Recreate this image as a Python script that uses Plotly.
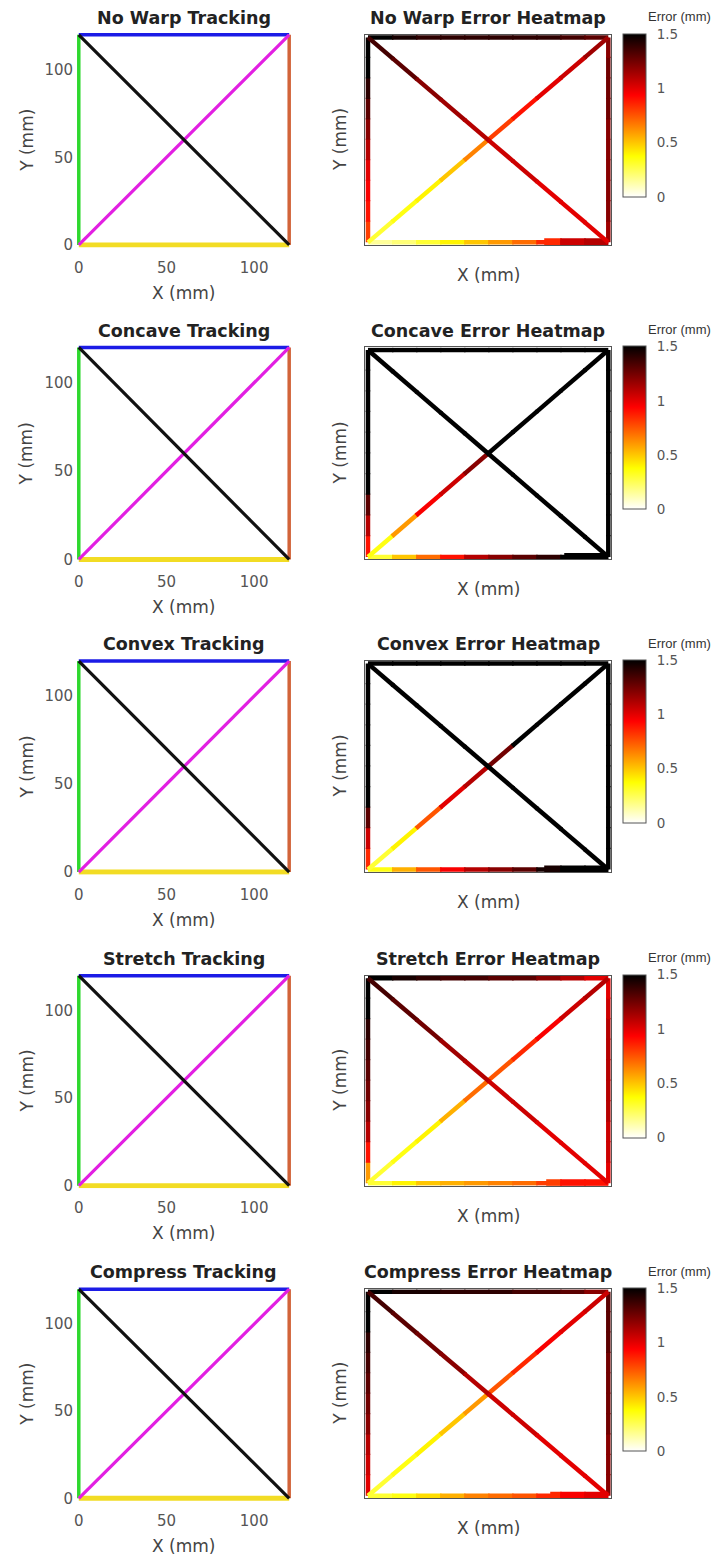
import plotly.graph_objects as go
from plotly.colors import sample_colorscale

# ---------------- data ----------------
WARPS = ["No Warp", "Concave", "Convex", "Stretch", "Compress"]

# tracked paths (mm): left, top, right, bottom, rising diagonal, falling diagonal
PATH_NAMES = ["left", "top", "right", "bottom", "diag_up", "diag_down"]
PATH_X0 = [0, 0, 120, 0, 0, 0]
PATH_Y0 = [0, 120, 0, 0, 0, 120]
PATH_X1 = [0, 120, 120, 120, 120, 120]
PATH_Y1 = [120, 120, 120, 0, 120, 0]

X_TICKS = [0, 50, 100]
Y_TICKS = [0, 50, 100]
CBAR_TICKS = [0, 0.5, 1, 1.5]
CBAR_TICKTEXT = ["0", "0.5", "1", "1.5"]
ERR_MAX = 1.5

# error (mm) along each path, start -> end, 10 samples each
nowarp_left = [0.8, 0.9, 0.95, 1.0, 1.1, 1.2, 1.3, 1.4, 1.5, 1.5]
nowarp_top = [1.5, 1.45, 1.4, 1.4, 1.4, 1.4, 1.4, 1.4, 1.35, 1.3]
nowarp_right = [1.15, 1.2, 1.2, 1.2, 1.2, 1.2, 1.25, 1.25, 1.25, 1.2]
nowarp_bottom = [0.15, 0.2, 0.3, 0.4, 0.5, 0.6, 0.7, 0.85, 1.05, 1.1]
nowarp_up = [0.3, 0.35, 0.4, 0.5, 0.65, 0.8, 0.9, 1.0, 1.05, 1.15]
nowarp_down = [1.35, 1.3, 1.2, 1.15, 1.1, 1.05, 1.05, 1.0, 1.0, 1.0]

concave_left = [0.9, 1.1, 1.3, 1.5, 1.5, 1.5, 1.5, 1.5, 1.5, 1.5]
concave_top = [1.5, 1.5, 1.5, 1.5, 1.5, 1.5, 1.5, 1.5, 1.5, 1.5]
concave_right = [1.5, 1.5, 1.5, 1.5, 1.5, 1.5, 1.5, 1.5, 1.5, 1.5]
concave_bottom = [0.3, 0.5, 0.7, 0.9, 1.1, 1.2, 1.3, 1.4, 1.5, 1.5]
concave_up = [0.35, 0.6, 0.95, 1.05, 1.2, 1.5, 1.5, 1.5, 1.5, 1.5]
concave_down = [1.5, 1.5, 1.5, 1.5, 1.5, 1.5, 1.5, 1.5, 1.5, 1.5]

convex_left = [0.85, 1.05, 1.3, 1.5, 1.5, 1.5, 1.5, 1.5, 1.5, 1.5]
convex_top = [1.5, 1.5, 1.5, 1.5, 1.5, 1.5, 1.5, 1.5, 1.5, 1.5]
convex_right = [1.5, 1.5, 1.5, 1.5, 1.5, 1.5, 1.5, 1.5, 1.5, 1.5]
convex_bottom = [0.35, 0.55, 0.75, 0.95, 1.1, 1.2, 1.3, 1.45, 1.5, 1.5]
convex_up = [0.3, 0.4, 0.75, 1.0, 1.1, 1.25, 1.5, 1.5, 1.5, 1.5]
convex_down = [1.5, 1.5, 1.5, 1.5, 1.5, 1.5, 1.5, 1.5, 1.5, 1.5]

stretch_left = [0.6, 0.9, 1.1, 1.2, 1.25, 1.3, 1.35, 1.4, 1.5, 1.5]
stretch_top = [1.5, 1.45, 1.4, 1.35, 1.35, 1.3, 1.3, 1.2, 1.1, 1.0]
stretch_right = [1.0, 1.05, 1.05, 1.1, 1.1, 1.1, 1.1, 1.1, 1.05, 1.0]
stretch_bottom = [0.3, 0.4, 0.5, 0.55, 0.6, 0.65, 0.7, 0.8, 0.9, 0.9]
stretch_up = [0.3, 0.35, 0.4, 0.55, 0.7, 0.75, 0.85, 0.95, 1.05, 1.1]
stretch_down = [1.35, 1.3, 1.25, 1.15, 1.1, 1.05, 1.05, 1.0, 1.0, 1.0]

compress_left = [1.0, 1.05, 1.1, 1.2, 1.25, 1.3, 1.35, 1.4, 1.5, 1.5]
compress_top = [1.5, 1.45, 1.45, 1.4, 1.4, 1.4, 1.35, 1.35, 1.3, 1.2]
compress_right = [1.2, 1.2, 1.2, 1.25, 1.25, 1.25, 1.25, 1.3, 1.3, 1.3]
compress_bottom = [0.3, 0.35, 0.45, 0.55, 0.65, 0.7, 0.75, 0.85, 0.95, 1.0]
compress_up = [0.3, 0.35, 0.4, 0.5, 0.6, 0.75, 0.85, 0.95, 1.0, 1.05]
compress_down = [1.35, 1.3, 1.25, 1.2, 1.1, 1.05, 1.05, 1.0, 1.0, 1.0]

# x (mm) from which the bottom edge is drawn as a thick blob
BLOB_FROM = [88, 98, 88, 89, 91]

ERRORS = [
    [nowarp_left, nowarp_top, nowarp_right, nowarp_bottom, nowarp_up, nowarp_down],
    [concave_left, concave_top, concave_right, concave_bottom, concave_up, concave_down],
    [convex_left, convex_top, convex_right, convex_bottom, convex_up, convex_down],
    [stretch_left, stretch_top, stretch_right, stretch_bottom, stretch_up, stretch_down],
    [compress_left, compress_top, compress_right, compress_bottom, compress_up, compress_down],
]

# ---------------- style ----------------
W, H = 717, 1568
TRACK_COLORS = ["#2ed82e", "#1c1ce6", "#d2643a", "#f2dc24", "#e21fe2", "#111111"]
TRACK_WIDTHS = [3.5, 3.5, 3.5, 5, 3.2, 3.2]
HOT_R = [[0.0, "rgb(255,255,255)"], [0.25, "rgb(255,255,0)"],
         [0.625, "rgb(255,0,0)"], [1.0, "rgb(0,0,0)"]]
FONT = "DejaVu Sans"
ROW_TOP = [35, 349, 664, 980, 1295]
ROW_BOT = [246, 562, 876, 1191, 1505]
TRACK_X0PX, TRACK_X1PX = 77, 288
HEAT_X0PX, HEAT_X1PX = 364, 611
PAD = 1.5
OVERLAP = 0.006


def px(x):
    return x / W


def py(y):
    return 1 - y / H


fig = go.Figure()
layout = dict(width=W, height=H, autosize=False, margin=dict(l=0, r=0, t=0, b=0),
              paper_bgcolor="white", plot_bgcolor="white", showlegend=False,
              font=dict(family=FONT, color="#444"))
annotations = []

for r, warp in enumerate(WARPS):
    ta, ha = 2 * r + 1, 2 * r + 2
    top, bot = ROW_TOP[r], ROW_BOT[r]
    # tracking axes
    ppu_x = (TRACK_X1PX - TRACK_X0PX) / 120
    ppu_y = (bot - top) / 120
    layout[f"xaxis{ta}"] = dict(domain=[px(TRACK_X0PX - PAD * ppu_x), px(TRACK_X1PX + PAD * ppu_x)],
                                range=[-PAD, 120 + PAD], anchor=f"y{ta}", showgrid=False,
                                zeroline=False, showline=False, tickvals=X_TICKS, ticks="",
                                tickfont=dict(size=15, color="#555"), ticklabelstandoff=9,
                                fixedrange=True)
    layout[f"yaxis{ta}"] = dict(domain=[py(bot + PAD * ppu_y), py(top - PAD * ppu_y)],
                                range=[-PAD, 120 + PAD], anchor=f"x{ta}", showgrid=False,
                                zeroline=False, showline=False, tickvals=Y_TICKS, ticks="",
                                tickfont=dict(size=15, color="#555"), ticklabelstandoff=2,
                                fixedrange=True)
    for i, name in enumerate(PATH_NAMES):
        fig.add_trace(go.Scatter(x=[PATH_X0[i], PATH_X1[i]], y=[PATH_Y0[i], PATH_Y1[i]],
                                 mode="lines", line=dict(color=TRACK_COLORS[i], width=TRACK_WIDTHS[i]),
                                 xaxis=f"x{ta}", yaxis=f"y{ta}", hoverinfo="skip"))
    # heatmap axes
    layout[f"xaxis{ha}"] = dict(domain=[px(HEAT_X0PX), px(HEAT_X1PX)], range=[-PAD, 120 + PAD],
                                anchor=f"y{ha}", showgrid=False, zeroline=False, showticklabels=False,
                                ticks="", showline=True, mirror=True, linecolor="#555", linewidth=1,
                                fixedrange=True)
    layout[f"yaxis{ha}"] = dict(domain=[py(bot), py(top)], range=[-PAD, 120 + PAD],
                                anchor=f"x{ha}", showgrid=False, zeroline=False, showticklabels=False,
                                ticks="", showline=True, mirror=True, linecolor="#555", linewidth=1,
                                fixedrange=True)
    for i, name in enumerate(PATH_NAMES):
        vals = ERRORS[r][i]
        n = len(vals)
        cols = sample_colorscale(HOT_R, [min(v / ERR_MAX, 1) for v in vals])
        for k, v in enumerate(vals):
            a = k / n
            b = min(1.0, (k + 1) / n + OVERLAP)
            xs = [PATH_X0[i] + (PATH_X1[i] - PATH_X0[i]) * a, PATH_X0[i] + (PATH_X1[i] - PATH_X0[i]) * b]
            ys = [PATH_Y0[i] + (PATH_Y1[i] - PATH_Y0[i]) * a, PATH_Y0[i] + (PATH_Y1[i] - PATH_Y0[i]) * b]
            fig.add_trace(go.Scatter(x=xs, y=ys, mode="lines", line=dict(color=cols[k], width=4.5),
                                     xaxis=f"x{ha}", yaxis=f"y{ha}", hoverinfo="skip"))
            if name == "bottom" and xs[1] > BLOB_FROM[r]:
                bx = [max(xs[0], BLOB_FROM[r]), xs[1]]
                fig.add_trace(go.Scatter(x=bx, y=ys, mode="lines", line=dict(color=cols[k], width=8),
                                         xaxis=f"x{ha}", yaxis=f"y{ha}", hoverinfo="skip"))
    # colorbar
    cax = "coloraxis" if r == 0 else f"coloraxis{r + 1}"
    layout[cax] = dict(cmin=0, cmax=ERR_MAX, colorscale=HOT_R,
                       colorbar=dict(x=px(623), xanchor="left", xpad=0,
                                     y=py(top - 1), yanchor="top", ypad=0,
                                     lenmode="pixels", len=163, thicknessmode="pixels", thickness=23,
                                     outlinewidth=1, outlinecolor="#555",
                                     tickvals=CBAR_TICKS, ticktext=CBAR_TICKTEXT,
                                     ticks="outside", ticklen=8, tickcolor="rgba(0,0,0,0)",
                                     tickfont=dict(size=13.5, color="#555")))
    fig.add_trace(go.Scatter(x=[None], y=[None], mode="markers",
                             marker=dict(color=[0], coloraxis=cax, size=1),
                             xaxis=f"x{ha}", yaxis=f"y{ha}", hoverinfo="skip"))

    # texts
    tcx = (TRACK_X0PX + TRACK_X1PX) / 2
    hcx = (HEAT_X0PX + HEAT_X1PX) / 2
    annotations += [
        dict(text=f"<b>{warp} Tracking</b>", x=px(tcx), y=py(top - 17), font=dict(size=17.5, color="#222")),
        dict(text=f"<b>{warp} Error Heatmap</b>", x=px(hcx), y=py(top - 17), font=dict(size=17.5, color="#222")),
        dict(text="X (mm)", x=px(tcx), y=py(bot + 48), font=dict(size=17, color="#444")),
        dict(text="Y (mm)", x=px(25), y=py((top + bot) / 2), textangle=-90, font=dict(size=17, color="#444")),
        dict(text="X (mm)", x=px(hcx), y=py(bot + 30), font=dict(size=17, color="#444")),
        dict(text="Y (mm)", x=px(339), y=py((top + bot) / 2), textangle=-90, font=dict(size=17, color="#444")),
        dict(text="Error (mm)", x=px(713), y=py(top - 18), xanchor="right",
             font=dict(size=13, color="#333", family="Liberation Sans")),
    ]

for a in annotations:
    a.setdefault("xanchor", "center")
    a.update(xref="paper", yref="paper", showarrow=False, yanchor="middle")
layout["annotations"] = annotations
fig.update_layout(**layout)
fig.write_html("out.html")
